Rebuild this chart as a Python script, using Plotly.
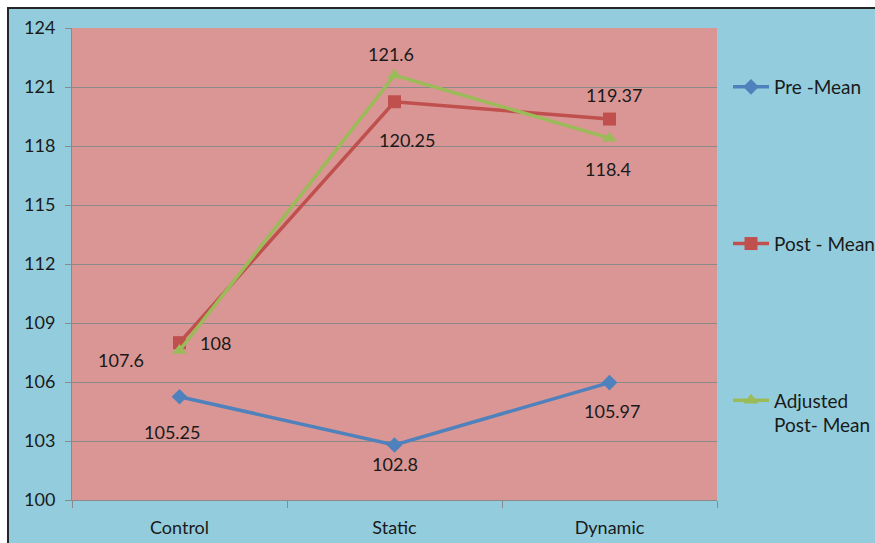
import plotly.graph_objects as go

# Group means across the three training conditions
categories = ["Control", "Static", "Dynamic"]
pre_mean = [105.25, 102.8, 105.97]
post_mean = [108, 120.25, 119.37]
adjusted_post_mean = [107.6, 121.6, 118.4]

series_names = ["Pre -Mean", "Post - Mean", "Adjusted<br>Post- Mean"]
y_ticks = [100, 103, 106, 109, 112, 115, 118, 121, 124]

# Styling
FONT = "Lato, Carlito, Calibri, Arial, sans-serif"
TEXT = "#1a1a1a"
COLORS = ["#4F81BD", "#C0504D", "#9BBB59"]
SYMBOLS = ["diamond", "square", "triangle-up"]
OUTER_BG = "#93CDDD"
PLOT_BG = "#D99694"
GRID = "#8A8A8A"
FRAME = "#262626"

# Pixel offsets (dx, dy) of each value label from its point
label_offsets = [
    [(-8, -35), (0, -19), (2, -28)],
    [(36, 0), (12, -38), (4, 24)],
    [(-59, -9), (-4, 21), (-2, -31)],
]

W, H = 875, 543
L, R, T, B = 72, 158, 28, 43
pw, ph = W - L - R, H - T - B

def px_to_paper_x(px):
    return (px - L) / pw

def px_to_paper_y(py):
    return (H - B - py) / ph

fig = go.Figure()

all_series = [pre_mean, post_mean, adjusted_post_mean]
for i, vals in enumerate(all_series):
    fig.add_trace(go.Scatter(
        x=categories, y=vals, name=series_names[i],
        mode="lines+markers",
        line=dict(color=COLORS[i], width=3.5),
        marker=dict(symbol=SYMBOLS[i], size=13 if i != 0 else 12, color=COLORS[i]),
        legendgroup=f"g{i}",
    ))
    for j, v in enumerate(vals):
        dx, dy = label_offsets[i][j]
        fig.add_annotation(
            x=categories[j], y=v, text=f"{v:g}", showarrow=False,
            xshift=dx, yshift=dy,
            font=dict(family=FONT, size=18, color=TEXT),
        )

# White margin strips and dark frame on the top/left edges of the chart
fig.add_shape(type="rect", xref="paper", yref="paper", layer="above",
              x0=px_to_paper_x(-5), x1=px_to_paper_x(7.5),
              y0=px_to_paper_y(H + 5), y1=px_to_paper_y(-5),
              fillcolor="white", line=dict(width=0))
fig.add_shape(type="rect", xref="paper", yref="paper", layer="above",
              x0=px_to_paper_x(-5), x1=px_to_paper_x(W + 5),
              y0=px_to_paper_y(7.5), y1=px_to_paper_y(-5),
              fillcolor="white", line=dict(width=0))
fig.add_shape(type="line", xref="paper", yref="paper", layer="above",
              x0=px_to_paper_x(8), x1=px_to_paper_x(8),
              y0=px_to_paper_y(7), y1=px_to_paper_y(H + 5),
              line=dict(color=FRAME, width=2))
fig.add_shape(type="line", xref="paper", yref="paper", layer="above",
              x0=px_to_paper_x(7), x1=px_to_paper_x(W + 5),
              y0=px_to_paper_y(8), y1=px_to_paper_y(8),
              line=dict(color=FRAME, width=2))

fig.update_layout(
    width=W, height=H,
    margin=dict(l=L, r=R, t=T, b=B, pad=0, autoexpand=False),
    paper_bgcolor=OUTER_BG,
    plot_bgcolor=PLOT_BG,
    font=dict(family=FONT, size=18, color=TEXT),
    showlegend=True,
    legend=dict(
        x=px_to_paper_x(728), y=px_to_paper_y(68), xanchor="left", yanchor="top",
        bgcolor="rgba(0,0,0,0)", tracegroupgap=129, valign="top",
        font=dict(family=FONT, size=19, color=TEXT),
        itemwidth=36,
    ),
    xaxis=dict(
        type="category", range=[-0.5, 2.5],
        tickson="boundaries", ticks="outside", ticklen=7, tickcolor=GRID,
        tickwidth=1, showgrid=False, showline=True, linecolor=GRID, linewidth=1,
        tickfont=dict(family=FONT, size=18, color=TEXT), ticklabelstandoff=11,
        zeroline=False,
    ),
    yaxis=dict(
        range=[100, 124], tickvals=y_ticks, ticks="outside", ticklen=6,
        tickcolor=GRID, showgrid=True, gridcolor=GRID, gridwidth=1,
        showline=True, linecolor=GRID, linewidth=1, zeroline=False,
        tickfont=dict(family=FONT, size=18, color=TEXT), ticklabelstandoff=6,
    ),
)

fig.write_html("out.html")
